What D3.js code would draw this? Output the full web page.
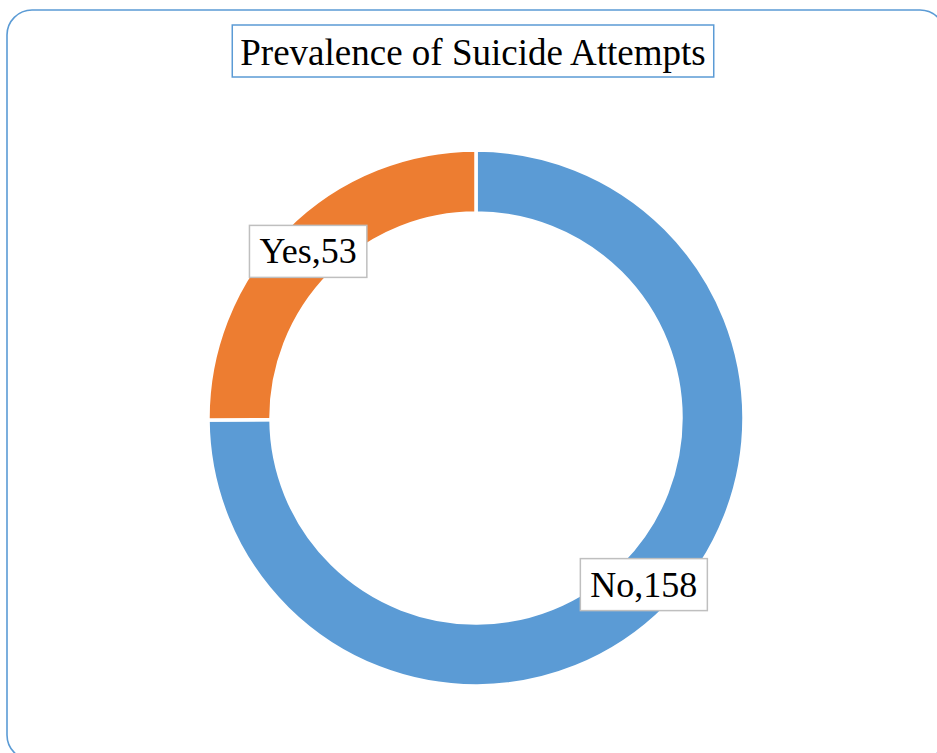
<!DOCTYPE html>
<html>
<head>
<meta charset="utf-8">
<script src="https://cdn.jsdelivr.net/npm/d3@7"></script>
<style>
  html, body { margin: 0; padding: 0; background: #fff; }
  svg { display: block; }
</style>
</head>
<body>
<svg id="chart" width="937" height="753"></svg>
<script>
// Survey responses
const categories = ["No", "Yes"];
const counts = [158, 53];
const colors = ["#5b9bd5", "#ed7d31"];
const title = "Prevalence of Suicide Attempts";

const svg = d3.select("#chart");
const cx = 476, cy = 418;
const outerR = 268, innerR = 205;
const font = "'Liberation Serif', 'Times New Roman', serif";

// Chart frame with rounded corners
svg.append("rect")
  .attr("x", 7).attr("y", 10)
  .attr("width", 938).attr("height", 750)
  .attr("rx", 25).attr("ry", 25)
  .attr("fill", "#fff")
  .attr("stroke", "#5b9bd5")
  .attr("stroke-width", 1.6);

// Title in a bordered box
const tg = svg.append("g");
const tText = tg.append("text")
  .attr("x", 473).attr("y", 65)
  .attr("text-anchor", "middle")
  .attr("font-family", font)
  .attr("font-size", 37)
  .attr("fill", "#000")
  .text(title);
const tw = tText.node().getComputedTextLength();
tg.insert("rect", "text")
  .attr("x", 473 - tw / 2 - 8).attr("y", 25)
  .attr("width", tw + 16).attr("height", 52)
  .attr("fill", "#fff")
  .attr("stroke", "#5b9bd5")
  .attr("stroke-width", 1.5);

// Donut
const data = categories.map((c, i) => ({ name: c, value: counts[i], color: colors[i] }));
const pie = d3.pie().value(d => d.value).sort(null);
const arc = d3.arc().innerRadius(innerR).outerRadius(outerR);
const arcs = pie(data);

const g = svg.append("g").attr("transform", `translate(${cx},${cy})`);
g.selectAll("path.slice")
  .data(arcs)
  .join("path")
  .attr("class", "slice")
  .attr("d", arc)
  .attr("fill", d => d.data.color)
  .attr("stroke", "#fff")
  .attr("stroke-width", 3.5);

// Data labels at slice centroids
const labels = g.selectAll("g.lbl")
  .data(arcs)
  .join("g")
  .attr("class", "lbl")
  .attr("transform", d => `translate(${arc.centroid(d)})`);

labels.append("text")
  .attr("text-anchor", "middle")
  .attr("y", 12)
  .attr("font-family", font)
  .attr("font-size", 36)
  .attr("fill", "#000")
  .text(d => `${d.data.name},${d.data.value}`);

labels.each(function () {
  const grp = d3.select(this);
  const w = grp.select("text").node().getComputedTextLength();
  grp.insert("rect", "text")
    .attr("x", -w / 2 - 10).attr("y", -26)
    .attr("width", w + 20).attr("height", 52)
    .attr("fill", "#fff")
    .attr("stroke", "#bfbfbf")
    .attr("stroke-width", 1.5);
});
</script>
</body>
</html>
